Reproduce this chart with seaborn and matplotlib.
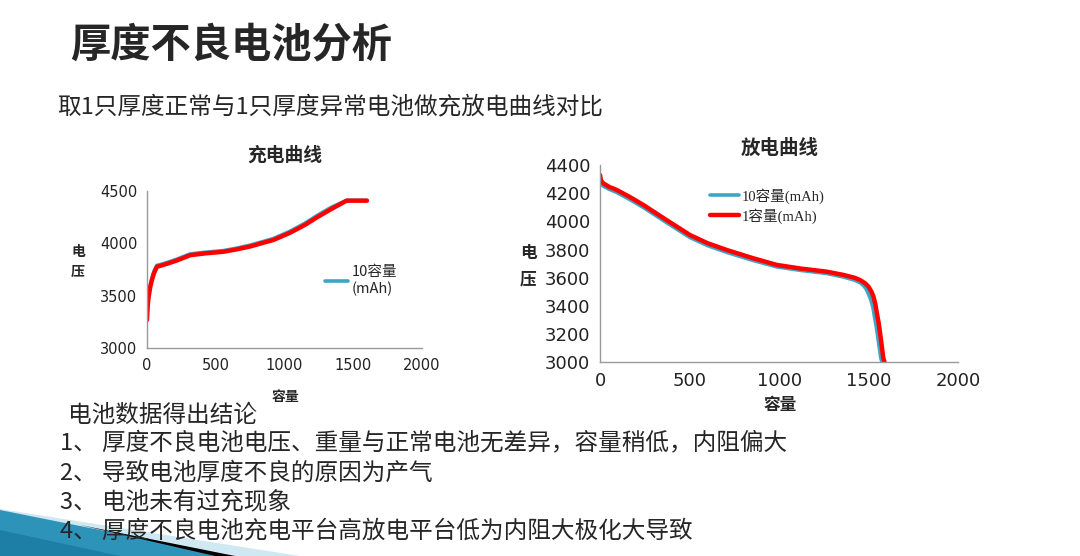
import matplotlib
matplotlib.use("Agg")
import matplotlib.pyplot as plt
import seaborn as sns
import pandas as pd
from matplotlib.patches import Polygon

# charge curve (充电曲线)
charge_x = [0, 5, 12, 25, 36, 50, 72, 100, 150, 218, 314, 420, 556, 650, 750, 850,
            919, 1041, 1150, 1235, 1340, 1452, 1500, 1550, 1600]
charge_red = [3267, 3400, 3489, 3590, 3648, 3710, 3775, 3785, 3805, 3835, 3885, 3902, 3918, 3940, 3968, 4005,
              4030, 4099, 4175, 4245, 4325, 4405, 4405, 4405, 4405]
charge_blue = [3280, 3420, 3510, 3610, 3668, 3730, 3788, 3797, 3817, 3848, 3897, 3913, 3929, 3952, 3981, 4018,
               4044, 4114, 4191, 4262, 4342, 4408, 4408, 4408, 4408]

# discharge curve (放电曲线)
dis_red_x = [0, 5, 18, 50, 93, 170, 242, 370, 502, 600, 707, 850, 986, 1120, 1265, 1358,
             1420, 1451, 1480, 1498, 1515, 1526, 1537, 1545, 1555, 1563, 1572, 1581, 1588]
dis_red = [4329, 4290, 4270, 4245, 4223, 4170, 4116, 4010, 3903, 3845, 3797, 3740, 3691, 3665, 3643, 3620,
           3600, 3584, 3560, 3537, 3500, 3466, 3410, 3348, 3280, 3206, 3120, 3030, 3000]
dis_blue_x = [0, 5, 18, 50, 93, 170, 242, 370, 502, 600, 707, 850, 986, 1120, 1265, 1358,
              1420, 1451, 1470, 1485, 1500, 1512, 1523, 1532, 1542, 1550, 1559, 1567, 1574]
dis_blue = [4300, 4265, 4250, 4228, 4205, 4152, 4098, 3992, 3885, 3828, 3780, 3724, 3677, 3652, 3630, 3605,
            3583, 3565, 3545, 3520, 3480, 3440, 3390, 3320, 3250, 3180, 3100, 3030, 3000]

title = "厚度不良电池分析"
subtitle = "取1只厚度正常与1只厚度异常电池做充放电曲线对比"
conclusions = [
    "电池数据得出结论",
    "1、 厚度不良电池电压、重量与正常电池无差异，容量稍低，内阻偏大",
    "2、 导致电池厚度不良的原因为产气",
    "3、 电池未有过充现象",
    "4、 厚度不良电池充电平台高放电平台低为内阻大极化大导致",
]

BLUE = "#3aa6c8"
RED = "#ff0000"
CJK = ["Noto Sans CJK SC", "DejaVu Sans"]
SERIF = ["Liberation Serif", "Noto Sans CJK SC"]

sns.set_theme(style="white")
plt.rcParams["font.family"] = ["DejaVu Sans", "Noto Sans CJK SC"]

fig = plt.figure(figsize=(10.8, 5.56), dpi=100)


def style_axes(ax, fs):
    for s in ["top", "right"]:
        ax.spines[s].set_visible(False)
    for s in ["left", "bottom"]:
        ax.spines[s].set_color("#999999")
        ax.spines[s].set_linewidth(1.0)
    ax.tick_params(axis="both", which="both", length=4, width=1, color="#999999",
                   direction="out", labelsize=fs, labelcolor="#222222", pad=3)
    ax.grid(False)


# left: charge
ax1 = fig.add_axes([0.1361, 0.3741, 0.2546, 0.2829])
df_c = pd.DataFrame({"x": charge_x, "red": charge_red, "blue": charge_blue})
sns.lineplot(data=df_c, x="x", y="blue", ax=ax1, color=BLUE, lw=2.6, label="10容量\n(mAh)")
sns.lineplot(data=df_c, x="x", y="red", ax=ax1, color=RED, lw=3.2, legend=False)
ax1.set_xlim(0, 2000)
ax1.set_ylim(3000, 4500)
ax1.set_xticks([0, 500, 1000, 1500, 2000])
ax1.set_yticks([3000, 3500, 4000, 4500])
style_axes(ax1, 10.5)
ax1.set_xlabel("")
ax1.set_ylabel("")
ax1.set_title("充电曲线", family=CJK, fontsize=13.5, fontweight="bold", pad=22)
ax1.legend(loc="upper left", bbox_to_anchor=(0.6, 0.61), frameon=False,
           handlelength=1.6, handletextpad=0.2, prop={"family": CJK, "size": 10.5})
fig.text(78 / 1080, 1 - 262 / 556, "电\n压", family=CJK, fontsize=10, fontweight="bold",
         ha="center", va="center", linespacing=1.6)
fig.text(285 / 1080, 1 - 397 / 556, "容量", family=CJK, fontsize=10, fontweight="bold",
         ha="center", va="center")

# right: discharge
ax2 = fig.add_axes([0.5556, 0.3484, 0.3318, 0.3549])
df_b = pd.DataFrame({"x": dis_blue_x, "v": dis_blue})
df_r = pd.DataFrame({"x": dis_red_x, "v": dis_red})
sns.lineplot(data=df_b, x="x", y="v", ax=ax2, color=BLUE, lw=2.6, label="10容量(mAh)")
sns.lineplot(data=df_r, x="x", y="v", ax=ax2, color=RED, lw=3.2, label="1容量(mAh)")
ax2.set_xlim(0, 2000)
ax2.set_ylim(3000, 4400)
ax2.set_xticks([0, 500, 1000, 1500, 2000])
ax2.set_yticks(list(range(3000, 4401, 200)))
style_axes(ax2, 13)
ax2.set_xlabel("")
ax2.set_ylabel("")
ax2.set_title("放电曲线", family=CJK, fontsize=14, fontweight="bold", pad=8)
ax2.legend(loc="upper left", bbox_to_anchor=(0.27, 0.95), frameon=False,
           handlelength=2.0, handletextpad=0.2, labelspacing=0.3,
           prop={"family": SERIF, "size": 10.5})
fig.text(528 / 1080, 1 - 266 / 556, "电\n压", family=CJK, fontsize=12, fontweight="bold",
         ha="center", va="center", linespacing=1.6)
fig.text(780 / 1080, 1 - 405 / 556, "容量", family=CJK, fontsize=12, fontweight="bold",
         ha="center", va="center")

# slide texts
fig.text(70 / 1080, 1 - 45 / 556, title, family=CJK, fontsize=29, fontweight="bold",
         ha="left", va="center")
fig.text(57 / 1080, 1 - 107 / 556, subtitle, family=CJK, fontsize=17,
         ha="left", va="center")
ys = [415, 444, 473, 502, 531]
xs = [68, 60, 60, 60, 60]
for t, x, y in zip(conclusions, xs, ys):
    fig.text(x / 1080, 1 - y / 556, t, family=CJK, fontsize=17, ha="left", va="center",
             zorder=5)

# bottom-left decoration
W, H = 1080, 556
def px(pts):
    return [(a / W, 1 - b / H) for a, b in pts]

fig.patches.append(Polygon(px([(0, 509), (300, 556), (0, 556)]), closed=True,
                           transform=fig.transFigure, facecolor="#cfe8f2", edgecolor="none", zorder=1))
fig.patches.append(Polygon(px([(0, 510), (230, 556), (0, 556)]), closed=True,
                           transform=fig.transFigure, facecolor="#2e93b8", edgecolor="none", zorder=2))
fig.patches.append(Polygon(px([(0, 530), (120, 556), (0, 556)]), closed=True,
                           transform=fig.transFigure, facecolor="#1e7fa6", edgecolor="none", zorder=2))
fig.patches.append(Polygon(px([(80, 525), (235, 556), (215, 556)]), closed=True,
                           transform=fig.transFigure, facecolor="black", edgecolor="none", zorder=3))

fig.savefig("out.png", dpi=100)
